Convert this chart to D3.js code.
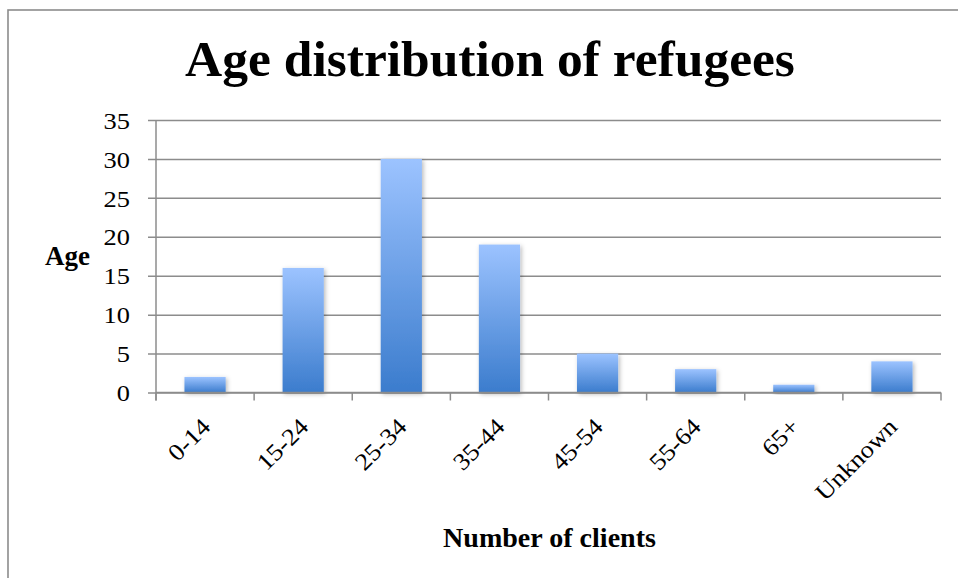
<!DOCTYPE html>
<html>
<head>
<meta charset="utf-8">
<script src="https://cdn.jsdelivr.net/npm/d3@7"></script>
<style>
  html, body { margin: 0; padding: 0; background: #fff; }
  svg { display: block; }
</style>
</head>
<body>
<svg id="chart" width="958" height="578"></svg>
<script>
// Age groups and number of clients in each
const categories = ["0-14", "15-24", "25-34", "35-44", "45-54", "55-64", "65+", "Unknown"];
const clients = [2, 16, 30, 19, 5, 3, 1, 4];
const yTicks = [0, 5, 10, 15, 20, 25, 30, 35];
const titleText = "Age distribution of refugees";
const yTitle = "Age";
const xTitle = "Number of clients";

const svg = d3.select("#chart");
const W = 958, H = 578;
const serif = "'Liberation Serif', 'DejaVu Serif', serif";

const plot = { left: 156, right: 941, top: 120, bottom: 392.5 };

const x = d3.scaleBand().domain(categories).range([plot.left, plot.right]).paddingInner(0.58).paddingOuter(0.29);
const y = d3.scaleLinear().domain([0, 35]).range([plot.bottom, plot.top]);

// Outer frame (runs past the right and bottom edges)
svg.append("rect")
  .attr("x", 8).attr("y", 10)
  .attr("width", W + 20).attr("height", H + 20)
  .attr("fill", "none").attr("stroke", "#8c8c8c").attr("stroke-width", 1.6);

const defs = svg.append("defs");
const grad = defs.append("linearGradient")
  .attr("id", "barGrad").attr("x1", 0).attr("y1", 0).attr("x2", 0).attr("y2", 1);
grad.append("stop").attr("offset", "0%").attr("stop-color", "#9cc3ff");
grad.append("stop").attr("offset", "100%").attr("stop-color", "#3b7ccd");

const shadow = defs.append("filter").attr("id", "barShadow")
  .attr("x", "-30%").attr("y", "-30%").attr("width", "160%").attr("height", "160%");
shadow.append("feDropShadow")
  .attr("dx", 1.5).attr("dy", 1.5).attr("stdDeviation", 2.2)
  .attr("flood-color", "#000").attr("flood-opacity", 0.28);

// Horizontal gridlines + y axis
const yAxis = d3.axisLeft(y).tickValues(yTicks)
  .tickSize(-(plot.right - plot.left)).tickPadding(26).tickSizeOuter(0);
const gy = svg.append("g").attr("transform", `translate(${plot.left},0)`).call(yAxis);
gy.select(".domain").remove();
gy.selectAll(".tick line")
  .attr("x1", -8)
  .attr("stroke", "#8c8c8c").attr("stroke-width", 1.5);
gy.selectAll(".tick text")
  .attr("font-family", serif).attr("font-size", 24).attr("fill", "#000")
  .attr("dy", "0.34em")
  .attr("transform", "translate(-26,0) scale(1.1,1) translate(26,0)");

// Vertical axis line
svg.append("line")
  .attr("x1", plot.left).attr("x2", plot.left)
  .attr("y1", plot.top).attr("y2", plot.bottom + 8)
  .attr("stroke", "#8c8c8c").attr("stroke-width", 1.5);

// Bars
svg.append("g").selectAll("rect").data(categories).join("rect")
  .attr("x", d => x(d))
  .attr("y", (d, i) => y(clients[i]))
  .attr("width", x.bandwidth())
  .attr("height", (d, i) => y(0) - y(clients[i]))
  .attr("fill", "url(#barGrad)")
  .attr("filter", "url(#barShadow)");

// Category axis: ticks at band boundaries
const step = x.step();
const boundaries = d3.range(categories.length + 1).map(i => plot.left + i * step);
svg.append("line")
  .attr("x1", plot.left).attr("x2", plot.right)
  .attr("y1", plot.bottom).attr("y2", plot.bottom)
  .attr("stroke", "#8c8c8c").attr("stroke-width", 1.5);
svg.append("g").selectAll("line").data(boundaries).join("line")
  .attr("x1", d => d).attr("x2", d => d)
  .attr("y1", plot.bottom).attr("y2", plot.bottom + 8)
  .attr("stroke", "#8c8c8c").attr("stroke-width", 1.5);

svg.append("g").selectAll("text").data(categories).join("text")
  .attr("transform", d => `translate(${x(d) + x.bandwidth() / 2 + 1},${plot.bottom + 30}) rotate(-45) scale(1.1,1)`)
  .attr("text-anchor", "end")
  .attr("dy", "0.34em")
  .attr("font-family", serif).attr("font-size", 24).attr("fill", "#000")
  .text(d => d);

// Titles
function fitText(sel, width) {
  const w = sel.node().getComputedTextLength();
  const fs = parseFloat(sel.attr("font-size"));
  sel.attr("font-size", fs * width / w);
}

const t = svg.append("text")
  .attr("x", 490).attr("y", 76)
  .attr("text-anchor", "middle")
  .attr("font-family", serif).attr("font-weight", "bold").attr("font-size", 46)
  .attr("fill", "#000").text(titleText);
fitText(t, 610);

const ya = svg.append("text")
  .attr("x", 67.5).attr("y", 265)
  .attr("text-anchor", "middle")
  .attr("font-family", serif).attr("font-weight", "bold").attr("font-size", 22)
  .attr("fill", "#000").text(yTitle);
fitText(ya, 45);

const xa = svg.append("text")
  .attr("x", 549.5).attr("y", 547)
  .attr("text-anchor", "middle")
  .attr("font-family", serif).attr("font-weight", "bold").attr("font-size", 22)
  .attr("fill", "#000").text(xTitle);
fitText(xa, 213);
</script>
</body>
</html>
